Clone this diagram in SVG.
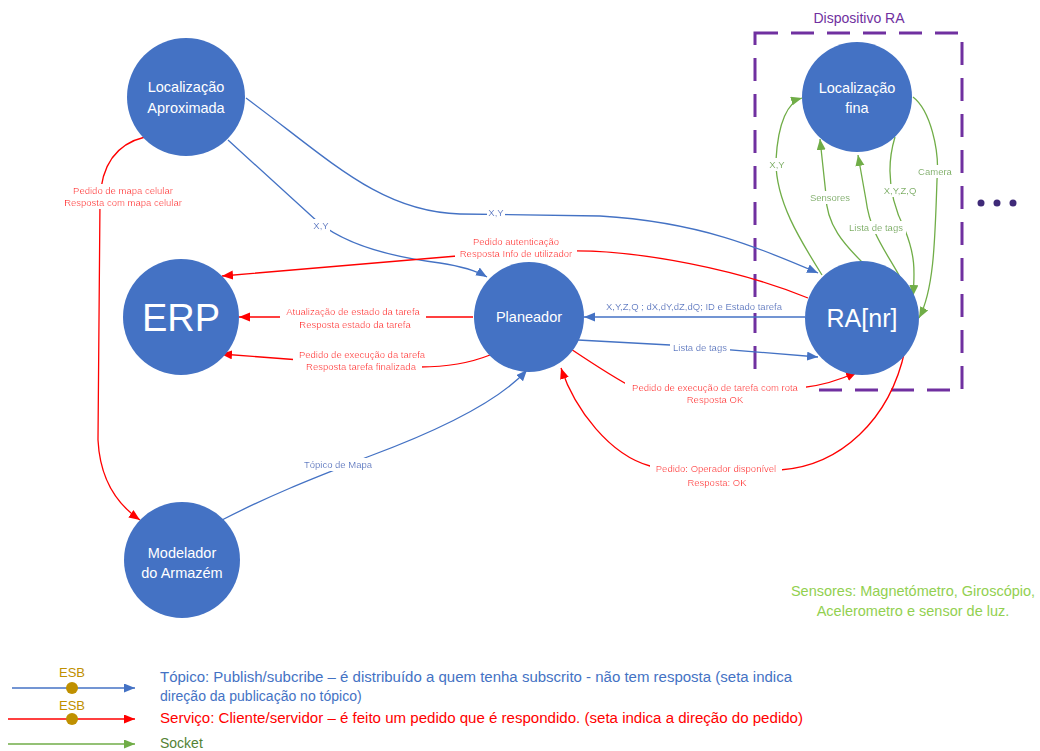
<svg xmlns="http://www.w3.org/2000/svg" width="1040" height="751" viewBox="0 0 1040 751">
<style>
text{font-family:"Liberation Sans",Arial,sans-serif}
.node circle{fill:#4472C4}
.nt{fill:#fff;font-size:14.5px;text-anchor:middle}
.c{fill:none;stroke-width:1.3}
.b{stroke:#4472C4}
.r{stroke:#FF0000}
.g{stroke:#70AD47}
.lb{font-size:9.5px;text-anchor:middle;filter:url(#bg)}
.lbb{fill:#4472C4}
.lbr{fill:#FF0000}
.lbg{fill:#70AD47}
</style>
<defs>
<filter id="bg" x="-0.04" y="-0.05" width="1.08" height="1.1">
<feFlood flood-color="#ffffff"/>
<feComposite in="SourceGraphic" operator="over"/>
</filter>
<marker id="ab" markerUnits="userSpaceOnUse" markerWidth="12" markerHeight="10" refX="11" refY="4.5" orient="auto"><path d="M0,0 L11,4.5 L0,9 z" fill="#4472C4"/></marker>
<marker id="ar" markerUnits="userSpaceOnUse" markerWidth="12" markerHeight="10" refX="11" refY="4.5" orient="auto"><path d="M0,0 L11,4.5 L0,9 z" fill="#FF0000"/></marker>
<marker id="ag" markerUnits="userSpaceOnUse" markerWidth="12" markerHeight="10" refX="11" refY="4.5" orient="auto"><path d="M0,0 L11,4.5 L0,9 z" fill="#70AD47"/></marker>
</defs>
<rect width="1040" height="751" fill="#fff"/>

<g id="dispositivo-ra">
<rect x="755" y="33" width="207" height="357" fill="none" stroke="#7030A0" stroke-width="3" stroke-dasharray="23 13"/>
<text x="859" y="23" font-size="14" fill="#7030A0" text-anchor="middle">Dispositivo RA</text>
</g>

<g id="connectors">
<!-- blue topics -->
<path class="c b" d="M228,140 L318,222 C350,248 400,258 440,263 C460,266 475,270 487,277" marker-end="url(#ab)"/>
<path class="c b" d="M246,98 C330,160 380,212 460,214 L600,216 C700,222 760,248 818,273" marker-end="url(#ab)"/>
<path class="c b" d="M805,317 L584,317" marker-end="url(#ab)"/>
<path class="c b" d="M578,340 L670,345 L818,357" marker-end="url(#ab)"/>
<path class="c b" d="M220,521 C280,490 330,472 370,456 C440,430 500,400 527,370" marker-end="url(#ab)"/>
<!-- red services -->
<path class="c r" d="M808,298 C740,270 640,250 570,251 L457,256 L222,276" marker-end="url(#ar)"/>
<path class="c r" d="M473,317 L239,317" marker-end="url(#ar)"/>
<path class="c r" d="M490,355 C470,363 445,367 420,367 L300,360 L221,354" marker-end="url(#ar)"/>
<path class="c r" d="M562,343 C590,362 610,375 630,386 L800,388 C820,386 840,380 857,372" marker-end="url(#ar)"/>
<path class="c r" d="M905,350 C890,420 840,466 780,470 L650,466 C610,455 575,410 561,368" marker-end="url(#ar)"/>
<path class="c r" d="M145,137 C112,145 101,170 100,200 L98,440 C100,480 118,505 140,520" marker-end="url(#ar)"/>
<!-- green sockets -->
<path class="c g" d="M822,275 C800,240 775,200 776,160 C778,122 788,102 802,98" marker-end="url(#ag)"/>
<path class="c g" d="M862,262 C845,245 826,225 826,195 L820,139" marker-end="url(#ag)"/>
<path class="c g" d="M900,277 C885,250 870,232 866,200 L858,155" marker-end="url(#ag)"/>
<path class="c g" d="M895,137 C885,170 890,200 905,230 C915,255 915,270 913,296" marker-end="url(#ag)"/>
<path class="c g" d="M913,97 C930,110 940,150 937,180 C935,240 934,290 919,318" marker-end="url(#ag)"/>

<!-- labels -->
<text class="lb lbb" x="321" y="229">X,Y</text>
<text class="lb lbb" x="496" y="216">X,Y</text>
<text class="lb lbb" x="694" y="310">X,Y,Z,Q ; dX,dY,dZ,dQ; ID e Estado tarefa</text>
<text class="lb lbb" x="700" y="351">Lista de tags</text>
<text class="lb lbb" x="338" y="468">Tópico de Mapa</text>

<text class="lb lbr" x="123" y="194">Pedido de mapa celular</text>
<text class="lb lbr" x="123" y="206">Resposta com mapa celular</text>
<text class="lb lbr" x="516" y="245">Pedido autenticação</text>
<text class="lb lbr" x="516" y="257">Resposta Info de utilizador</text>
<text class="lb lbr" x="353" y="315">Atualização de estado da tarefa</text>
<text class="lb lbr" x="355" y="328">Resposta estado da tarefa</text>
<text class="lb lbr" x="362" y="358">Pedido de execução da tarefa</text>
<text class="lb lbr" x="361" y="370">Resposta tarefa finalizada</text>
<text class="lb lbr" x="715" y="391">Pedido de execução de tarefa com rota</text>
<text class="lb lbr" x="715" y="403">Resposta OK</text>
<text class="lb lbr" x="716" y="472">Pedido: Operador disponível</text>
<text class="lb lbr" x="717" y="486">Resposta: OK</text>

<text class="lb lbg" x="777" y="168">X,Y</text>
<text class="lb lbg" x="830" y="201">Sensores</text>
<text class="lb lbg" x="876" y="231">Lista de tags</text>
<text class="lb lbg" x="900" y="194">X,Y,Z,Q</text>
<text class="lb lbg" x="935" y="175">Camera</text>
</g>

<g id="localizacao-aproximada" class="node">
<circle cx="186" cy="97" r="59"/>
<text class="nt" x="186" y="92">Localização</text>
<text class="nt" x="186" y="113">Aproximada</text>
</g>
<g id="erp" class="node">
<circle cx="181" cy="317" r="58"/>
<text class="nt" x="181" y="331" style="font-size:38px">ERP</text>
</g>
<g id="planeador" class="node">
<circle cx="529" cy="317" r="55"/>
<text class="nt" x="529" y="322">Planeador</text>
</g>
<g id="modelador" class="node">
<circle cx="182" cy="560" r="58"/>
<text class="nt" x="182" y="558">Modelador</text>
<text class="nt" x="182" y="578">do Armazém</text>
</g>
<g id="localizacao-fina" class="node">
<circle cx="857" cy="97" r="55"/>
<text class="nt" x="857" y="93">Localização</text>
<text class="nt" x="857" y="113">fina</text>
</g>
<g id="ra" class="node">
<circle cx="862" cy="318" r="57"/>
<text class="nt" x="862" y="327" style="font-size:25px">RA[nr]</text>
</g>

<g id="ellipsis" fill="#3F2A78">
<circle cx="981" cy="203" r="3.5"/>
<circle cx="997" cy="203" r="3.5"/>
<circle cx="1013" cy="203" r="3.5"/>
</g>

<g id="sensores-note" fill="#92D050" font-size="14.5" text-anchor="middle">
<text x="913" y="596">Sensores: Magnetómetro, Giroscópio,</text>
<text x="913" y="616">Acelerometro e sensor de luz.</text>
</g>

<g id="legend">
<line x1="12" y1="688" x2="135" y2="688" stroke="#4472C4" stroke-width="1.3" marker-end="url(#ab)"/>
<circle cx="72" cy="688" r="6" fill="#BF9000"/>
<text x="72" y="677" font-size="13" fill="#BF9000" text-anchor="middle">ESB</text>
<line x1="8" y1="719" x2="135" y2="719" stroke="#FF0000" stroke-width="1.3" marker-end="url(#ar)"/>
<circle cx="72" cy="719" r="6" fill="#BF9000"/>
<text x="72" y="710" font-size="13" fill="#BF9000" text-anchor="middle">ESB</text>
<line x1="8" y1="744" x2="135" y2="744" stroke="#70AD47" stroke-width="1.3" marker-end="url(#ag)"/>
<text x="160" y="682" font-size="14" fill="#4472C4" textLength="632" lengthAdjust="spacingAndGlyphs">Tópico: Publish/subcribe – é distribuído a quem tenha subscrito - não tem resposta (seta indica</text>
<text x="160" y="701" font-size="14" fill="#4472C4">direção da publicação no tópico)</text>
<text x="160" y="723" font-size="14" fill="#FF0000" textLength="643" lengthAdjust="spacingAndGlyphs">Serviço: Cliente/servidor – é feito um pedido que é respondido. (seta indica a direção do pedido)</text>
<text x="160" y="748" font-size="14" fill="#548235">Socket</text>
</g>
</svg>
